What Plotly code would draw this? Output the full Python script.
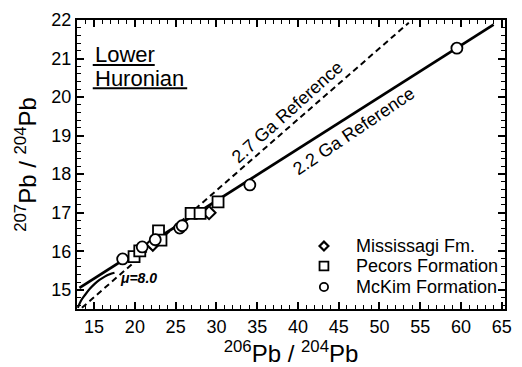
import plotly.graph_objects as go

# ---- data ----
mck_x = [18.5, 20.9, 22.5, 25.5, 25.8, 34.1, 59.5]
mck_y = [15.80, 16.11, 16.30, 16.60, 16.66, 17.72, 21.27]

pec_x = [19.9, 20.6, 22.9, 23.2, 26.9, 28.0, 30.2]
pec_y = [15.86, 16.01, 16.53, 16.29, 16.98, 16.98, 17.28]

mis_x = [22.2, 29.1]
mis_y = [16.18, 17.00]

ref22_x = [13.2, 64.0]
ref22_y = [15.05, 21.88]

ref27_x = [13.5, 53.6]
ref27_y = [14.53, 21.93]

grow_x = [13.0, 13.4, 13.9, 14.5, 15.1, 15.7, 16.3, 16.9, 17.5]
grow_y = [14.53, 14.72, 14.87, 15.03, 15.16, 15.26, 15.34, 15.40, 15.44]

legend_names = ["Mississagi Fm.", "Pecors Formation", "McKim Formation"]

FONT = "Liberation Sans, Arial, sans-serif"

fig = go.Figure()

fig.add_trace(go.Scatter(x=ref27_x, y=ref27_y, mode="lines", showlegend=False,
                         line=dict(color="black", width=2, dash="6px,4px")))
fig.add_trace(go.Scatter(x=ref22_x, y=ref22_y, mode="lines", showlegend=False,
                         line=dict(color="black", width=2.8)))
fig.add_trace(go.Scatter(x=grow_x, y=grow_y, mode="lines", showlegend=False,
                         line=dict(color="black", width=2.2, shape="spline")))

fig.add_trace(go.Scatter(x=mis_x, y=mis_y, mode="markers", name=legend_names[0], showlegend=False,
                         marker=dict(symbol="diamond", size=10, color="white",
                                     line=dict(color="black", width=2))))
fig.add_trace(go.Scatter(x=pec_x, y=pec_y, mode="markers", name=legend_names[1], showlegend=False,
                         marker=dict(symbol="square", size=11, color="white",
                                     line=dict(color="black", width=1.8))))
fig.add_trace(go.Scatter(x=mck_x, y=mck_y, mode="markers", name=legend_names[2], showlegend=False,
                         marker=dict(symbol="circle", size=11, color="white",
                                     line=dict(color="black", width=1.8))))

L, R, T, B = 77, 10, 15, 56
W, H = 522, 367
pw, ph = W - L - R, H - T - B


def px(x):
    return (x - L) / pw


def py(y):
    return (H - B - y) / ph


annots = [
    dict(x=38.7, y=19.62, xref="x", yref="y", text="2.7 Ga Reference", textangle=-42,
         showarrow=False, font=dict(size=18, family=FONT, color="black")),
    dict(x=46.9, y=19.11, xref="x", yref="y", text="2.2 Ga Reference", textangle=-34,
         showarrow=False, font=dict(size=18, family=FONT, color="black")),
    dict(x=20.4, y=15.30, xref="x", yref="y", text="<b><i>\u03bc=8.0</i></b>",
         showarrow=False, font=dict(size=14, family=FONT, color="black")),
    dict(x=px(93), y=py(50), xref="paper", yref="paper", text="Lower", xanchor="left",
         yanchor="middle", showarrow=False, font=dict(size=22, family=FONT, color="black")),
    dict(x=px(93), y=py(75), xref="paper", yref="paper", text="Huronian", xanchor="left",
         yanchor="middle", showarrow=False, font=dict(size=22, family=FONT, color="black")),
]

shapes = [
    dict(type="line", xref="paper", yref="paper", x0=px(93), x1=px(156), y0=py(61), y1=py(61),
         line=dict(color="black", width=2)),
    dict(type="line", xref="paper", yref="paper", x0=px(93), x1=px(189), y0=py(85), y1=py(85),
         line=dict(color="black", width=2)),
]

# manual legend (symbols as shapes, labels as text)
leg_y = [246.5, 267, 288.5]
sym_x = 328
for name, yy in zip(legend_names, leg_y):
    annots.append(dict(x=px(359), y=py(yy), xref="paper", yref="paper", text=name,
                       xanchor="left", yanchor="middle", showarrow=False,
                       font=dict(size=18, family=FONT, color="black")))
d = 4.5
shapes.append(dict(type="path", xref="paper", yref="paper",
                   path=f"M {px(sym_x - d)} {py(leg_y[0])} L {px(sym_x)} {py(leg_y[0] - d)} "
                        f"L {px(sym_x + d)} {py(leg_y[0])} L {px(sym_x)} {py(leg_y[0] + d)} Z",
                   line=dict(color="black", width=2.2), fillcolor="white"))
s = 4.5
shapes.append(dict(type="rect", xref="paper", yref="paper",
                   x0=px(sym_x - s), x1=px(sym_x + s), y0=py(leg_y[1] - s), y1=py(leg_y[1] + s),
                   line=dict(color="black", width=1.8), fillcolor="white"))
c = 4.2
shapes.append(dict(type="circle", xref="paper", yref="paper",
                   x0=px(sym_x - c), x1=px(sym_x + c), y0=py(leg_y[2] - c), y1=py(leg_y[2] + c),
                   line=dict(color="black", width=1.8), fillcolor="white"))

axis_common = dict(
    showline=True, linecolor="black", linewidth=2, mirror="ticks",
    ticks="inside", ticklen=7, tickwidth=1.5, tickcolor="black",
    showgrid=False, zeroline=False,
    tickfont=dict(size=18, family=FONT, color="black"),
)

fig.update_layout(
    width=W, height=H,
    margin=dict(l=L, r=R, t=T, b=B),
    plot_bgcolor="white", paper_bgcolor="white",
    font=dict(family=FONT, color="black"),
    showlegend=False,
    xaxis=dict(range=[12.9, 65.4], dtick=5, tick0=0,
               minor=dict(dtick=1, ticks="inside", ticklen=4, tickwidth=1.2, tickcolor="black"),
               title=dict(text="<sup>206</sup>Pb / <sup>204</sup>Pb",
                          font=dict(size=24, family=FONT), standoff=4),
               **axis_common),
    yaxis=dict(range=[14.5, 22], dtick=1,
               minor=dict(dtick=0.2, ticks="inside", ticklen=4, tickwidth=1.2, tickcolor="black"),
               title=dict(text="<sup>207</sup>Pb / <sup>204</sup>Pb",
                          font=dict(size=24, family=FONT), standoff=8),
               **axis_common),
    annotations=annots,
    shapes=shapes,
)

fig.write_html("out.html")
